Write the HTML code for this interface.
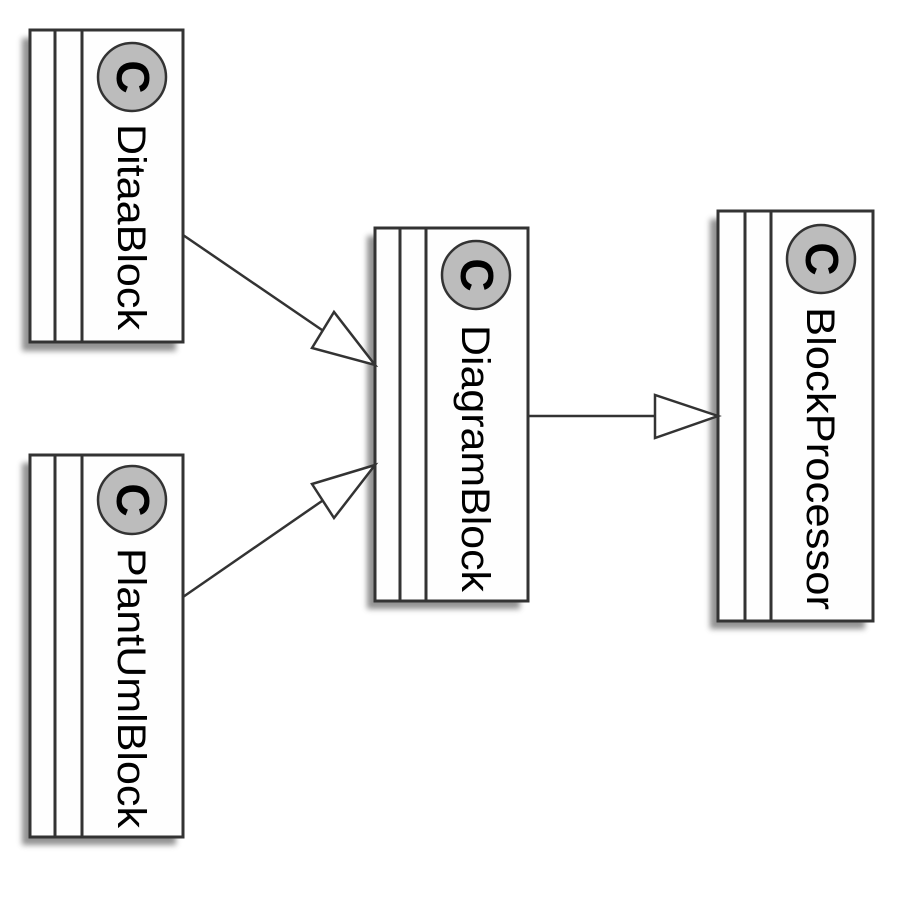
<!DOCTYPE html>
<html><head><style>html,body{margin:0;padding:0;background:#fff;width:900px;height:900px;overflow:hidden}</style></head>
<body>
<svg width="900" height="900" xmlns="http://www.w3.org/2000/svg">
<defs><filter id="sh" x="-20%" y="-20%" width="140%" height="140%"><feGaussianBlur stdDeviation="3"/></filter></defs>
<g fill="#777" filter="url(#sh)" opacity="0.8">
<rect x="22" y="38" width="154" height="313"/>
<rect x="22" y="463" width="154" height="382"/>
<rect x="367" y="236" width="153" height="373"/>
<rect x="710" y="219" width="155" height="410"/>
</g>
<g fill="#fefefe" stroke="#333" stroke-width="3">
<rect x="30" y="30" width="153" height="312"/>
<line x1="55" y1="30" x2="55" y2="342"/><line x1="82" y1="30" x2="82" y2="342"/>
<rect x="30" y="455" width="153" height="382"/>
<line x1="55" y1="455" x2="55" y2="837"/><line x1="82" y1="455" x2="82" y2="837"/>
<rect x="375" y="228" width="153" height="373"/>
<line x1="400" y1="228" x2="400" y2="601"/><line x1="426" y1="228" x2="426" y2="601"/>
<rect x="718" y="211" width="155" height="410"/>
<line x1="745" y1="211" x2="745" y2="621"/><line x1="771" y1="211" x2="771" y2="621"/>
</g>
<g fill="#bcbcbc" stroke="#333" stroke-width="2.5">
<circle cx="132" cy="77" r="34"/><circle cx="132" cy="500" r="34"/>
<circle cx="476" cy="275" r="34"/><circle cx="821" cy="259" r="34"/>
</g>
<g font-family="Liberation Sans, sans-serif" font-weight="bold" font-size="46" fill="#000" text-anchor="middle">
<text transform="translate(117,77) rotate(90)">C</text>
<text transform="translate(117,500) rotate(90)">C</text>
<text transform="translate(461,275) rotate(90)">C</text>
<text transform="translate(806,259) rotate(90)">C</text>
</g>
<g font-family="Liberation Sans, sans-serif" font-size="40" fill="#000">
<text transform="translate(118,124) rotate(90)" textLength="206" lengthAdjust="spacingAndGlyphs">DitaaBlock</text>
<text transform="translate(118,548) rotate(90)" textLength="280" lengthAdjust="spacingAndGlyphs">PlantUmlBlock</text>
<text transform="translate(462,325) rotate(90)" textLength="267" lengthAdjust="spacingAndGlyphs">DiagramBlock</text>
<text transform="translate(807,307) rotate(90)" textLength="303" lengthAdjust="spacingAndGlyphs">BlockProcessor</text>
</g>
<g stroke="#333" stroke-width="2.5" fill="none">
<line x1="183" y1="235" x2="322" y2="330"/>
<line x1="183" y1="597" x2="322" y2="501"/>
<line x1="528" y1="416" x2="655" y2="416"/>
</g>
<g stroke="#333" stroke-width="2.5" fill="#fff">
<polygon points="312,348 334,312 375,365"/>
<polygon points="312,484 334,518 375,465"/>
<polygon points="655,395 655,438 718,416"/>
</g>
</svg>
</body></html>
